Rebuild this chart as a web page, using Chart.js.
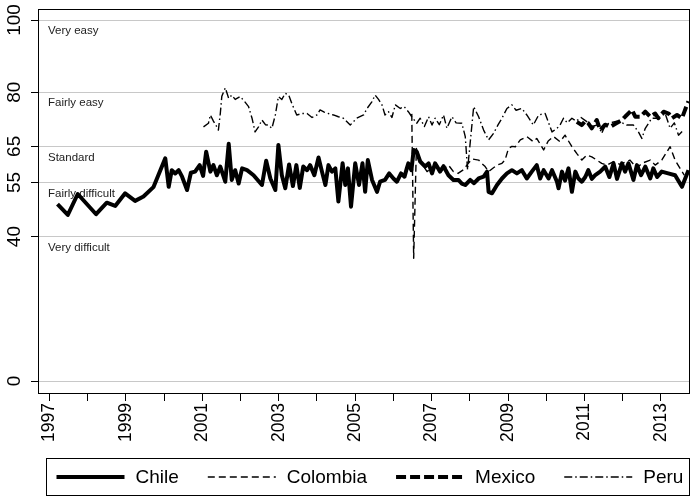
<!DOCTYPE html>
<html><head><meta charset="utf-8">
<script src="https://cdn.jsdelivr.net/npm/chart.js@4.4.0/dist/chart.umd.min.js"></script>
<style>html,body{margin:0;padding:0;background:#fff;}#wrap{width:693px;height:498px;position:relative;}</style>
</head><body><div id="wrap"><canvas id="c"></canvas></div>
<script>
const chileYears = [1997.21,1997.48,1997.74,1998.22,1998.50,1998.72,1998.98,1999.24,1999.46,1999.72,2000.03,2000.12,2000.20,2000.29,2000.38,2000.47,2000.60,2000.70,2000.81,2000.93,2001.02,2001.10,2001.21,2001.29,2001.38,2001.47,2001.60,2001.69,2001.77,2001.86,2001.95,2002.04,2002.17,2002.34,2002.56,2002.67,2002.78,2002.91,2002.99,2003.08,2003.17,2003.27,2003.37,2003.46,2003.55,2003.64,2003.74,2003.82,2003.93,2004.04,2004.13,2004.22,2004.30,2004.39,2004.48,2004.56,2004.67,2004.74,2004.81,2004.89,2005.00,2005.10,2005.19,2005.26,2005.33,2005.44,2005.57,2005.65,2005.78,2005.89,2006.00,2006.09,2006.20,2006.29,2006.35,2006.39,2006.47,2006.53,2006.61,2006.70,2006.83,2006.92,2007.01,2007.09,2007.22,2007.31,2007.44,2007.57,2007.70,2007.79,2007.88,2008.01,2008.11,2008.23,2008.36,2008.45,2008.49,2008.58,2008.71,2008.84,2008.97,2009.10,2009.23,2009.36,2009.49,2009.62,2009.75,2009.84,2009.93,2010.06,2010.15,2010.28,2010.32,2010.41,2010.49,2010.58,2010.67,2010.76,2010.84,2010.93,2011.02,2011.10,2011.19,2011.28,2011.41,2011.54,2011.65,2011.76,2011.85,2011.98,2012.06,2012.15,2012.28,2012.37,2012.48,2012.59,2012.72,2012.80,2012.90,2013.02,2013.19,2013.37,2013.55,2013.72];
const chileValues = [49.0,46.0,51.8,46.2,49.4,48.5,52.0,49.9,51.1,53.7,61.7,53.8,58.4,57.5,58.4,56.6,52.9,57.7,58.0,59.8,56.8,63.5,58.0,59.8,57.0,59.4,55.2,65.7,55.7,58.4,54.7,58.9,58.4,57.0,54.3,61.0,56.1,52.9,65.4,57.0,53.4,60.0,54.0,59.8,53.5,59.4,58.4,59.8,57.0,61.9,58.0,54.3,59.8,58.0,58.9,49.7,60.3,54.3,58.9,48.3,60.3,54.3,60.3,52.4,61.2,55.7,52.4,55.2,55.7,57.5,56.1,55.2,57.5,56.6,58.9,60.3,58.4,64.0,63.5,60.8,59.4,60.3,57.5,60.3,58.0,59.5,57.0,55.7,55.7,54.7,54.3,55.7,54.8,56.1,56.6,58.0,52.4,52.0,54.3,56.1,57.5,58.4,57.5,58.4,56.1,58.0,59.8,56.1,58.4,56.1,58.4,55.2,53.4,58.0,55.5,58.9,52.4,58.0,56.1,55.2,56.5,58.4,56.0,57.0,58.0,59.4,56.5,60.3,56.0,60.3,58.0,60.3,55.7,59.8,57.0,59.4,56.1,58.9,56.5,58.0,57.5,57.0,53.8,58.4];

const colombiaYears = [2006.48,2006.53,2006.60,2006.73,2006.88,2006.99,2007.14,2007.28,2007.44,2007.57,2007.69,2007.83,2007.96,2008.06,2008.23,2008.31,2008.40,2008.49,2008.61,2008.71,2008.84,2008.92,2009.01,2009.10,2009.19,2009.32,2009.49,2009.66,2009.75,2009.93,2010.05,2010.19,2010.36,2010.49,2010.67,2010.80,2010.93,2011.06,2011.19,2011.32,2011.45,2011.58,2011.76,2011.93,2012.19,2012.37,2012.50,2012.72,2012.85,2013.02,2013.24,2013.37,2013.50,2013.61];
const colombiaValues = [74.0,34.0,64.4,60.5,58.0,59.0,59.8,58.5,59.8,58.0,57.5,58.5,60.3,61.5,61.2,60.3,59.4,58.0,59.0,59.8,60.3,61.2,64.4,65.0,64.9,66.8,67.7,66.3,67.2,64.0,66.5,67.7,66.3,68.1,64.9,63.0,61.2,62.6,62.1,61.2,60.3,59.8,60.8,60.0,61.2,58.9,60.3,61.2,59.8,61.2,64.9,61.2,58.9,57.0];

const mexicoYears = [2010.80,2010.93,2011.02,2011.10,2011.19,2011.32,2011.41,2011.54,2011.67,2011.83,2011.98,2012.06,2012.24,2012.33,2012.46,2012.59,2012.72,2012.85,2012.93,2013.07,2013.20,2013.29,2013.42,2013.55,2013.68,2013.72];
const mexicoValues = [71.8,70.9,72.0,71.4,70.0,72.3,69.5,71.0,70.4,71.4,72.3,73.2,75.1,73.2,73.2,74.6,73.2,74.1,72.8,74.6,74.1,72.8,73.7,72.8,76.5,77.5];

const peruYears = [2001.03,2001.16,2001.21,2001.29,2001.38,2001.42,2001.47,2001.51,2001.60,2001.69,2001.77,2001.86,2001.99,2002.10,2002.21,2002.30,2002.38,2002.47,2002.56,2002.65,2002.73,2002.82,2002.91,2002.99,2003.08,2003.17,2003.26,2003.34,2003.47,2003.61,2003.74,2003.87,2004.00,2004.08,2004.19,2004.30,2004.43,2004.56,2004.69,2004.87,2005.04,2005.22,2005.31,2005.44,2005.52,2005.61,2005.70,2005.78,2005.87,2005.96,2006.05,2006.18,2006.28,2006.39,2006.48,2006.61,2006.70,2006.81,2006.92,2007.01,2007.09,2007.20,2007.31,2007.40,2007.53,2007.64,2007.79,2007.88,2007.94,2008.10,2008.23,2008.36,2008.49,2008.62,2008.74,2008.84,2008.97,2009.10,2009.21,2009.36,2009.49,2009.66,2009.80,2009.97,2010.15,2010.28,2010.36,2010.45,2010.55,2010.67,2010.78,2010.91,2011.04,2011.20,2011.36,2011.45,2011.55,2011.67,2011.85,2011.99,2012.11,2012.28,2012.41,2012.50,2012.59,2012.76,2012.93,2013.11,2013.24,2013.35,2013.46,2013.59];
const peruValues = [70.4,71.4,73.7,72.0,70.4,69.5,74.1,78.9,81.2,78.3,79.2,78.0,78.8,77.5,76.0,72.8,69.0,70.4,72.3,71.0,70.9,70.0,73.7,78.8,78.0,79.7,79.2,76.9,73.7,74.1,74.1,73.0,73.7,75.1,74.5,74.1,73.7,73.2,72.8,70.9,72.8,73.7,75.5,77.4,79.2,78.0,76.5,73.7,74.6,73.0,76.5,75.5,76.0,74.6,73.2,71.4,72.8,70.5,73.2,70.9,72.8,71.0,73.7,70.0,73.2,71.5,71.4,67.7,58.5,76.0,73.2,69.5,66.8,68.6,71.0,72.8,75.5,76.5,75.0,75.5,73.7,70.9,73.7,74.1,69.0,70.0,70.9,72.8,71.5,72.8,72.0,73.0,72.0,70.5,71.0,68.6,71.0,71.5,72.0,71.5,70.9,70.9,69.0,67.2,70.0,72.8,72.8,74.1,70.0,71.5,68.1,69.5];

const seriesNames = ['Chile','Colombia','Mexico','Peru'];
const yTickValues = [0,40,55,65,80,100];
const xTickYears = [1997,1998,1999,2000,2001,2002,2003,2004,2005,2006,2007,2008,2009,2010,2011,2012,2013];
const xLabelYears = [1997,1999,2001,2003,2005,2007,2009,2011,2013];
const bandLabels = ['Very easy','Fairly easy','Standard','Fairly difficult','Very difficult'];
const bandValues = [100,80,65,55,40];

const FONT = 'Liberation Sans, Arial, Helvetica, sans-serif';
const pts = (xs, ys) => xs.map((x, i) => ({x: x, y: ys[i]}));

const framePlugin = {
  id: 'frame',
  beforeDatasetsDraw(chart) {
    const {ctx, chartArea: a, scales: {y}} = chart;
    ctx.save();
    ctx.fillStyle = '#222';
    ctx.font = '11.5px ' + FONT;
    ctx.textAlign = 'left';
    ctx.textBaseline = 'middle';
    bandLabels.forEach((t, i) => {
      ctx.fillText(t, a.left + 10, y.getPixelForValue(bandValues[i]) + 11);
    });
    ctx.restore();
  },
  afterDraw(chart) {
    const {ctx, chartArea: a, scales: {y}} = chart;
    ctx.save();
    ctx.strokeStyle = '#000';
    ctx.lineWidth = 1;
    ctx.strokeRect(Math.round(a.left) + 0.5, Math.round(a.top) + 0.5, Math.round(a.right - a.left) - 1, Math.round(a.bottom - a.top));
    ctx.fillStyle = '#000';
    ctx.font = '19px ' + FONT;
    ctx.textAlign = 'center';
    ctx.textBaseline = 'middle';
    yTickValues.forEach(v => {
      ctx.save();
      ctx.translate(15, y.getPixelForValue(v));
      ctx.rotate(-Math.PI / 2);
      ctx.fillText(String(v), 0, 0);
      ctx.restore();
    });
    const bx = 46.5, by = 458.5, bw = 643, bh = 37;
    ctx.strokeRect(bx, by, bw, bh);
    const cy = by + bh / 2;
    ctx.font = '19px ' + FONT;
    ctx.textAlign = 'left';
    let x = 56.5;
    chart.data.datasets.forEach(ds => {
      ctx.save();
      ctx.strokeStyle = '#000';
      ctx.lineWidth = ds.borderWidth;
      ctx.setLineDash(ds.borderDash || []);
      ctx.beginPath();
      ctx.moveTo(x, cy);
      ctx.lineTo(x + 68, cy);
      ctx.stroke();
      ctx.restore();
      ctx.fillText(ds.label, x + 79, cy + 1);
      x += 79 + ctx.measureText(ds.label).width + 29;
    });
    ctx.restore();
  }
};

const lineBase = {fill: false, tension: 0, pointRadius: 0, borderColor: '#000', borderJoinStyle: 'round'};

new Chart(document.getElementById('c'), {
  type: 'line',
  data: {
    datasets: [
      Object.assign({label: seriesNames[0], data: pts(chileYears, chileValues), borderWidth: 4, borderDash: []}, lineBase),
      Object.assign({label: seriesNames[1], data: pts(colombiaYears, colombiaValues), borderWidth: 1.4, borderDash: [7, 4]}, lineBase),
      Object.assign({label: seriesNames[2], data: pts(mexicoYears, mexicoValues), borderWidth: 4, borderDash: [10, 4]}, lineBase),
      Object.assign({label: seriesNames[3], data: pts(peruYears, peruValues), borderWidth: 1.4, borderDash: [8, 3, 1.5, 3]}, lineBase)
    ]
  },
  options: {
    responsive: true,
    maintainAspectRatio: false,
    animation: false,
    events: [],
    layout: {padding: {left: 0, top: 9, right: 3, bottom: 55}},
    plugins: {legend: {display: false}, tooltip: {enabled: false}},
    scales: {
      x: {
        type: 'linear',
        min: 1996.70,
        max: 2013.76,
        afterBuildTicks: s => { s.ticks = xTickYears.map(v => ({value: v})); },
        afterFit: s => { s.height = 50; },
        grid: {drawOnChartArea: false, drawTicks: true, tickLength: 8, color: '#000', lineWidth: 1},
        border: {display: false},
        ticks: {
          autoSkip: false, minRotation: 90, maxRotation: 90, padding: 2,
          color: '#000', font: {family: FONT, size: 17.5},
          callback: v => xLabelYears.includes(v) ? String(v) : ''
        }
      },
      y: {
        type: 'linear',
        min: -3.32,
        max: 103.05,
        afterBuildTicks: s => { s.ticks = yTickValues.map(v => ({value: v})); },
        afterFit: s => { s.width = 38; },
        grid: {drawOnChartArea: true, drawTicks: true, tickLength: 7, color: '#c8c8c8', tickColor: '#000', lineWidth: 1},
        border: {display: false},
        ticks: {display: false}
      }
    }
  },
  plugins: [framePlugin]
});
</script>
</body></html>
